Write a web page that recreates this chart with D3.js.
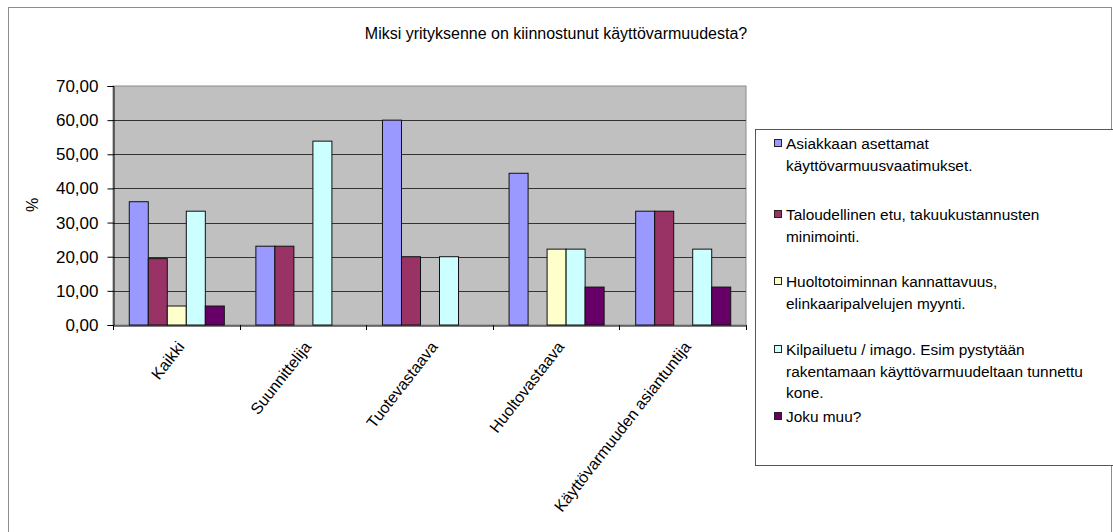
<!DOCTYPE html>
<html>
<head>
<meta charset="utf-8">
<script src="https://cdn.jsdelivr.net/npm/d3@7"></script>
<style>
  html, body { margin: 0; padding: 0; background: #fff; }
  svg { display: block; font-family: "Liberation Sans", Arial, sans-serif; }
</style>
</head>
<body>
<svg id="chart" width="1113" height="532"></svg>
<script>
// ---- data ----
const categories = ["Kaikki", "Suunnittelija", "Tuotevastaava", "Huoltovastaava", "Käyttövarmuuden asiantuntija"];
const seriesNames = [
  "Asiakkaan asettamat\nkäyttövarmuusvaatimukset.",
  "Taloudellinen etu, takuukustannusten\nminimointi.",
  "Huoltotoiminnan kannattavuus,\nelinkaaripalvelujen myynti.",
  "Kilpailuetu / imago. Esim pystytään\nrakentamaan käyttövarmuudeltaan tunnettu\nkone.",
  "Joku muu?"
];
const asiakkaan   = [36.11, 23.08, 60.00, 44.44, 33.33];
const taloudellinen = [19.44, 23.08, 20.00, 0, 33.33];
const huolto      = [5.56, 0, 0, 22.22, 0];
const kilpailu    = [33.33, 53.85, 20.00, 22.22, 22.22];
const jokuMuu     = [5.56, 0, 0, 11.11, 11.11];
const seriesValues = [asiakkaan, taloudellinen, huolto, kilpailu, jokuMuu];
const colors = ["#9999FF", "#993366", "#FFFFCC", "#CCFFFF", "#660066"];
const yTicks = [0, 10, 20, 30, 40, 50, 60, 70];
const title = "Miksi yrityksenne on kiinnostunut käyttövarmuudesta?";
const yLabel = "%";

// ---- layout ----
const svg = d3.select("#chart");
const plot = { left: 113, right: 746, top: 86, bottom: 325 };

// outer border
svg.append("rect").attr("x", 8.5).attr("y", 7.5).attr("width", 1103).attr("height", 540)
  .attr("fill", "#fff").attr("stroke", "#8c8c8c").attr("stroke-width", 1);

const x = d3.scaleBand().domain(categories).range([plot.left, plot.right]).paddingInner(0).paddingOuter(0);
const xs = d3.scaleBand().domain(d3.range(seriesNames.length)).range([0, x.bandwidth()]).paddingInner(0).paddingOuter(0.83);
const y = d3.scaleLinear().domain([0, 70]).range([plot.bottom, plot.top]);

// plot background
svg.append("rect").attr("x", plot.left).attr("y", plot.top)
  .attr("width", plot.right - plot.left).attr("height", plot.bottom - plot.top)
  .attr("fill", "#C0C0C0").attr("stroke", "#8c8c8c").attr("stroke-width", 1);

// gridlines
svg.append("g").selectAll("line").data(yTicks.filter(t => t > 0 && t < 70)).join("line")
  .attr("x1", plot.left).attr("x2", plot.right)
  .attr("y1", d => Math.round(y(d)) + 0.5).attr("y2", d => Math.round(y(d)) + 0.5)
  .attr("stroke", "#333").attr("stroke-width", 1);

// bars
const groups = svg.append("g").selectAll("g").data(categories).join("g")
  .attr("transform", d => `translate(${x(d)},0)`);
groups.selectAll("rect")
  .data((c, ci) => seriesValues.map((vals, si) => ({ si, v: vals[ci] })))
  .join("rect")
  .filter(d => d.v > 0)
  .attr("x", d => xs(d.si) + 0.5)
  .attr("y", d => y(d.v))
  .attr("width", xs.bandwidth())
  .attr("height", d => y(0) - y(d.v))
  .attr("fill", d => colors[d.si])
  .attr("stroke", "#111").attr("stroke-width", 1);

// y axis
const fmt = d3.formatLocale({ decimal: ",", thousands: " ", grouping: [3], currency: ["", "€"] }).format(".2f");
const yAxis = d3.axisLeft(y).tickValues(yTicks).tickFormat(fmt).tickSize(6).tickPadding(9);
const gy = svg.append("g").attr("transform", `translate(${plot.left + 0.5},0)`).call(yAxis);
gy.selectAll("text").attr("font-size", 17).attr("fill", "#000").attr("font-family", "Liberation Sans, Arial, sans-serif");
gy.selectAll("line,path").attr("stroke", "#000");

// x axis
const xAxis = d3.axisBottom(x).tickSize(0).tickFormat("");
const gx = svg.append("g").attr("transform", `translate(0,${plot.bottom + 0.5})`).call(xAxis);
gx.select("path").attr("stroke", "#000");
// category boundary ticks
svg.append("g").selectAll("line").data(d3.range(categories.length + 1)).join("line")
  .attr("x1", i => Math.round(plot.left + i * x.step()) + 0.5)
  .attr("x2", i => Math.round(plot.left + i * x.step()) + 0.5)
  .attr("y1", plot.bottom).attr("y2", plot.bottom + 5)
  .attr("stroke", "#000");
// rotated category labels
svg.append("g").selectAll("text").data(categories).join("text")
  .attr("transform", d => `translate(${x(d) + x.bandwidth() / 2 + 9},${plot.bottom + 22}) rotate(-52)`)
  .attr("text-anchor", "end")
  .attr("font-size", 16)
  .attr("fill", "#000")
  .text(d => d);

// y label
svg.append("text").attr("transform", `translate(38,205) rotate(-90)`)
  .attr("text-anchor", "middle").attr("font-size", 16).attr("fill", "#000").text(yLabel);

// title
svg.append("text").attr("x", 556).attr("y", 39).attr("text-anchor", "middle")
  .attr("font-size", 16).attr("fill", "#000").text(title);

// legend
const lg = svg.append("g");
lg.append("rect").attr("x", 755.5).attr("y", 129.5).attr("width", 380).attr("height", 336)
  .attr("fill", "#fff").attr("stroke", "#555").attr("stroke-width", 1);
const entryY = [143, 214, 281, 349, 416];
const lineH = 21.5;
const entries = lg.selectAll("g.entry").data(seriesNames).join("g").attr("class", "entry")
  .attr("transform", (d, i) => `translate(0,${entryY[i]})`);
entries.append("rect").attr("x", 774.5).attr("y", -3.5).attr("width", 7).attr("height", 7)
  .attr("fill", (d, i) => colors[i]).attr("stroke", "#222").attr("stroke-width", 1);
entries.each(function (d) {
  const t = d3.select(this).append("text").attr("x", 786).attr("y", 0)
    .attr("font-size", 15.4).attr("fill", "#000").attr("dominant-baseline", "central");
  d.split("\n").forEach((ln, k) => {
    t.append("tspan").attr("x", 786).attr("y", k * lineH).text(ln);
  });
});
</script>
</body>
</html>
